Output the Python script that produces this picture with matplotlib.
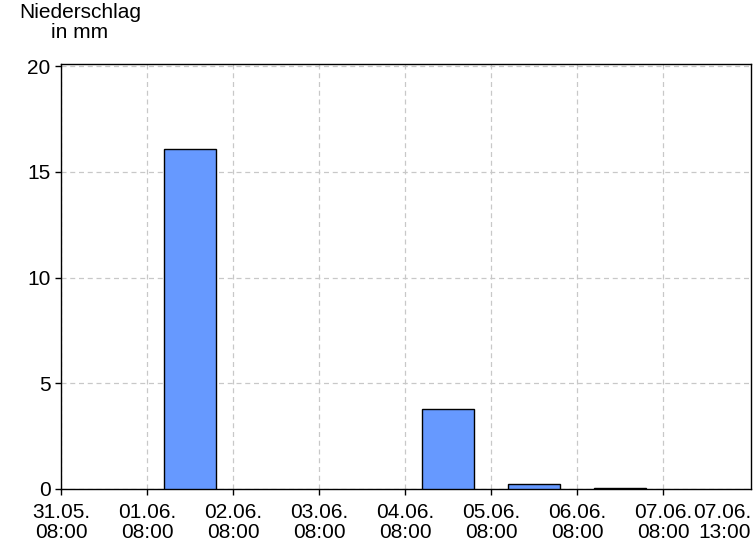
import matplotlib
matplotlib.use("Agg")
import matplotlib.pyplot as plt

plt.rcParams['font.family'] = ['Liberation Sans', 'DejaVu Sans']

# --- Daten ---
tage = ['31.05.', '01.06.', '02.06.', '03.06.', '04.06.', '05.06.', '06.06.', '07.06.']
uhrzeit = ['08:00'] * len(tage)
letzter_tag = '07.06.'
letzte_zeit = '13:00'
# Tagessummen Niederschlag (mm), jeweils 08:00 bis 08:00
niederschlag = [0.0, 16.07, 0.0, 0.0, 3.76, 0.22, 0.04]

fs = 15
fig = plt.figure(figsize=(7.56, 5.46), dpi=100)
ax = fig.add_axes([61 / 756, 1 - 489 / 546, 690 / 756, 425 / 546])

# nur Tage mit Niederschlag zeichnen
x = [i + 0.5 for i, v in enumerate(niederschlag) if v > 0]
h = [v for v in niederschlag if v > 0]
ax.bar(x, h, width=0.61, color='#6699ff', edgecolor='black',
       linewidth=1.0, zorder=3)

x_end = 8.02
ticks = list(range(len(tage))) + [x_end]
ax.set_xticks(ticks)
ax.set_xticklabels([f'{d}\n{t}' for d, t in zip(tage, uhrzeit)]
                   + [f'{letzter_tag}\n{letzte_zeit}'],
                   fontsize=fs, linespacing=1.05)
ax.set_xlim(0, x_end)
ax.set_ylim(0, 20.1)
ax.set_yticks([0, 5, 10, 15, 20])
ax.tick_params(axis='y', labelsize=fs, length=4, width=1, pad=3.5)
ax.tick_params(axis='x', length=4, width=1, pad=6)

ax.grid(True, color='#c8c8c8', linestyle=(0, (4, 3)), linewidth=0.9, zorder=0)
ax.set_axisbelow(True)
for s in ax.spines.values():
    s.set_linewidth(1.0)

last = ax.xaxis.get_major_ticks()[-1]
last.tick1line.set_visible(False)
last.gridline.set_visible(False)
ax.get_xticklabels()[-1].set_ha('right')

fig.text(80 / 756, 1 - 3 / 546, 'Niederschlag\nin mm', ha='center', va='top',
         fontsize=fs, linespacing=1.05)

fig.savefig('out.png', dpi=100)
